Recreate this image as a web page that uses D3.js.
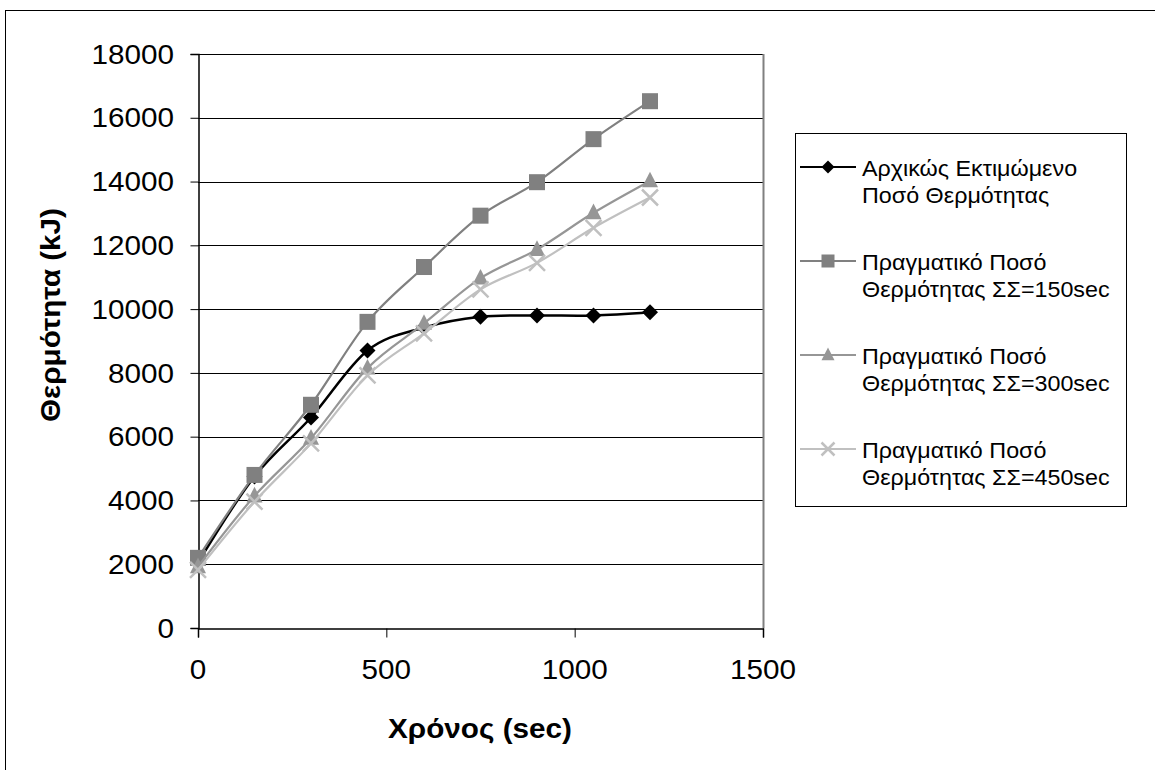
<!DOCTYPE html>
<html>
<head>
<meta charset="utf-8">
<script src="https://cdn.jsdelivr.net/npm/d3@7"></script>
<style>
  html, body { margin: 0; padding: 0; background: #fff; }
  svg { display: block; font-family: Arial, "Liberation Sans", sans-serif; }
</style>
</head>
<body>
<svg id="chart" width="1155" height="770"></svg>
<script>
// ---- data ----
const times = [0, 150, 300, 450, 600, 750, 900, 1050, 1200];
const estimated = [2050, 4750, 6600, 8700, 9420, 9760, 9800, 9800, 9900];
const actual150 = [2200, 4800, 7000, 9600, 11320, 12930, 13980, 15330, 16520];
const actual300 = [1920, 4140, 5950, 8150, 9550, 10970, 11870, 13020, 14020];
const actual450 = [1820, 3960, 5790, 7920, 9240, 10620, 11450, 12550, 13500];
const seriesNames = [
  ["Αρχικώς Εκτιμώμενο", "Ποσό Θερμότητας"],
  ["Πραγματικό Ποσό", "Θερμότητας ΣΣ=150sec"],
  ["Πραγματικό Ποσό", "Θερμότητας ΣΣ=300sec"],
  ["Πραγματικό Ποσό", "Θερμότητας ΣΣ=450sec"]
];
const xTicks = [0, 500, 1000, 1500];
const yTicks = [0, 2000, 4000, 6000, 8000, 10000, 12000, 14000, 16000, 18000];
const xTitle = "Χρόνος (sec)";
const yTitle = "Θερμότητα (kJ)";

// ---- styles ----
const styles = [
  { color: "#000000", marker: "diamond" },
  { color: "#808080", marker: "square" },
  { color: "#969696", marker: "triangle" },
  { color: "#c0c0c0", marker: "cross" }
];
const allSeries = [estimated, actual150, actual300, actual450];
const SX = 1.06; // horizontal stretch of text as in the original

const svg = d3.select("#chart");

// outer frame
svg.append("rect").attr("x", 5.5).attr("y", 10.5).attr("width", 1200).attr("height", 800)
  .attr("fill", "#fff").attr("stroke", "#000").attr("stroke-width", 1);

const x = d3.scaleLinear().domain([0, 1500]).range([198, 763]);
const y = d3.scaleLinear().domain([0, 18000]).range([628, 54]);

// gridlines
svg.append("g").selectAll("line").data(yTicks.filter(d => d > 0)).join("line")
  .attr("x1", x(0)).attr("x2", x(1500))
  .attr("y1", d => Math.round(y(d)) + 0.5).attr("y2", d => Math.round(y(d)) + 0.5)
  .attr("stroke", "#000").attr("stroke-width", 1);

// plot right border
svg.append("line").attr("x1", Math.round(x(1500)) + 0.5).attr("x2", Math.round(x(1500)) + 0.5)
  .attr("y1", y(18000)).attr("y2", y(0))
  .attr("stroke", "#808080").attr("stroke-width", 2);

// axes
const yAxis = d3.axisLeft(y).tickValues(yTicks).tickSize(8).tickFormat("");
const xAxis = d3.axisBottom(x).tickValues(xTicks).tickSize(9).tickFormat("");
const gy = svg.append("g").attr("transform", `translate(${Math.round(x(0)) + 0.5},0)`).call(yAxis);
const gx = svg.append("g").attr("transform", `translate(0,${Math.round(y(0)) + 0.5})`).call(xAxis);
[gy, gx].forEach(g => {
  g.select(".domain").attr("stroke", "#000").attr("stroke-width", 1.5);
  g.selectAll(".tick line").attr("stroke", "#000").attr("stroke-width", 1);
});

function stretchedText(parent, tx, ty, str, opts) {
  const g = parent.append("g").attr("transform", `translate(${tx},${ty}) scale(${SX},1)`);
  g.append("text").text(str)
    .attr("font-size", opts.size)
    .attr("font-weight", opts.weight || "normal")
    .attr("text-anchor", opts.anchor || "start")
    .attr("dominant-baseline", "central")
    .attr("fill", "#000");
  return g;
}

// tick labels
yTicks.forEach(v => stretchedText(svg, 174, y(v), String(v), { size: 28, anchor: "end" }));
xTicks.forEach(v => stretchedText(svg, x(v), 669, String(v), { size: 28, anchor: "middle" }));

// axis titles
stretchedText(svg, 480, 728, xTitle, { size: 28, weight: "bold", anchor: "middle" });
{
  const g = svg.append("g").attr("transform", `translate(50,315) rotate(-90) scale(${SX},1)`);
  g.append("text").text(yTitle).attr("font-size", 28).attr("font-weight", "bold")
    .attr("text-anchor", "middle").attr("dominant-baseline", "central");
}

// markers
function drawMarker(g, type, cx, cy, color, s) {
  if (type === "diamond") {
    g.append("path").attr("d", `M${cx},${cy - s}L${cx + s},${cy}L${cx},${cy + s}L${cx - s},${cy}Z`).attr("fill", color);
  } else if (type === "square") {
    g.append("rect").attr("x", cx - s).attr("y", cy - s).attr("width", 2 * s).attr("height", 2 * s).attr("fill", color);
  } else if (type === "triangle") {
    g.append("path").attr("d", `M${cx},${cy - s * 1.15}L${cx + s},${cy + s * 0.8}L${cx - s},${cy + s * 0.8}Z`).attr("fill", color);
  } else {
    g.append("path").attr("d", `M${cx - s},${cy - s}L${cx + s},${cy + s}M${cx - s},${cy + s}L${cx + s},${cy - s}`)
      .attr("stroke", color).attr("stroke-width", 2.5).attr("fill", "none");
  }
}

const line = d3.line().x(d => x(d[0])).y(d => y(d[1])).curve(d3.curveCatmullRom.alpha(0));
const plotG = svg.append("g");
// series drawn in order: later series on top (as in the original)
allSeries.forEach((vals, i) => {
  const pts = times.map((t, k) => [t, vals[k]]);
  const sg = plotG.append("g");
  sg.append("path").datum(pts).attr("d", line).attr("fill", "none")
    .attr("stroke", styles[i].color).attr("stroke-width", i === 0 ? 2.5 : 2.2);
  pts.forEach(p => drawMarker(sg, styles[i].marker, x(p[0]), y(p[1]), styles[i].color, 8));
});

// legend
const lg = svg.append("g");
lg.append("rect").attr("x", 795.5).attr("y", 133.5).attr("width", 331).attr("height", 373)
  .attr("fill", "#fff").attr("stroke", "#000").attr("stroke-width", 1);
seriesNames.forEach((names, i) => {
  const ly = 167 + i * 94;
  lg.append("line").attr("x1", 800).attr("x2", 856).attr("y1", ly).attr("y2", ly)
    .attr("stroke", styles[i].color).attr("stroke-width", 2.2);
  drawMarker(lg, styles[i].marker, 828, ly, styles[i].color, 6.5);
  stretchedText(lg, 862, ly + 1, names[0], { size: 22 });
  stretchedText(lg, 862, ly + 28, names[1], { size: 22 });
});
</script>
</body>
</html>
